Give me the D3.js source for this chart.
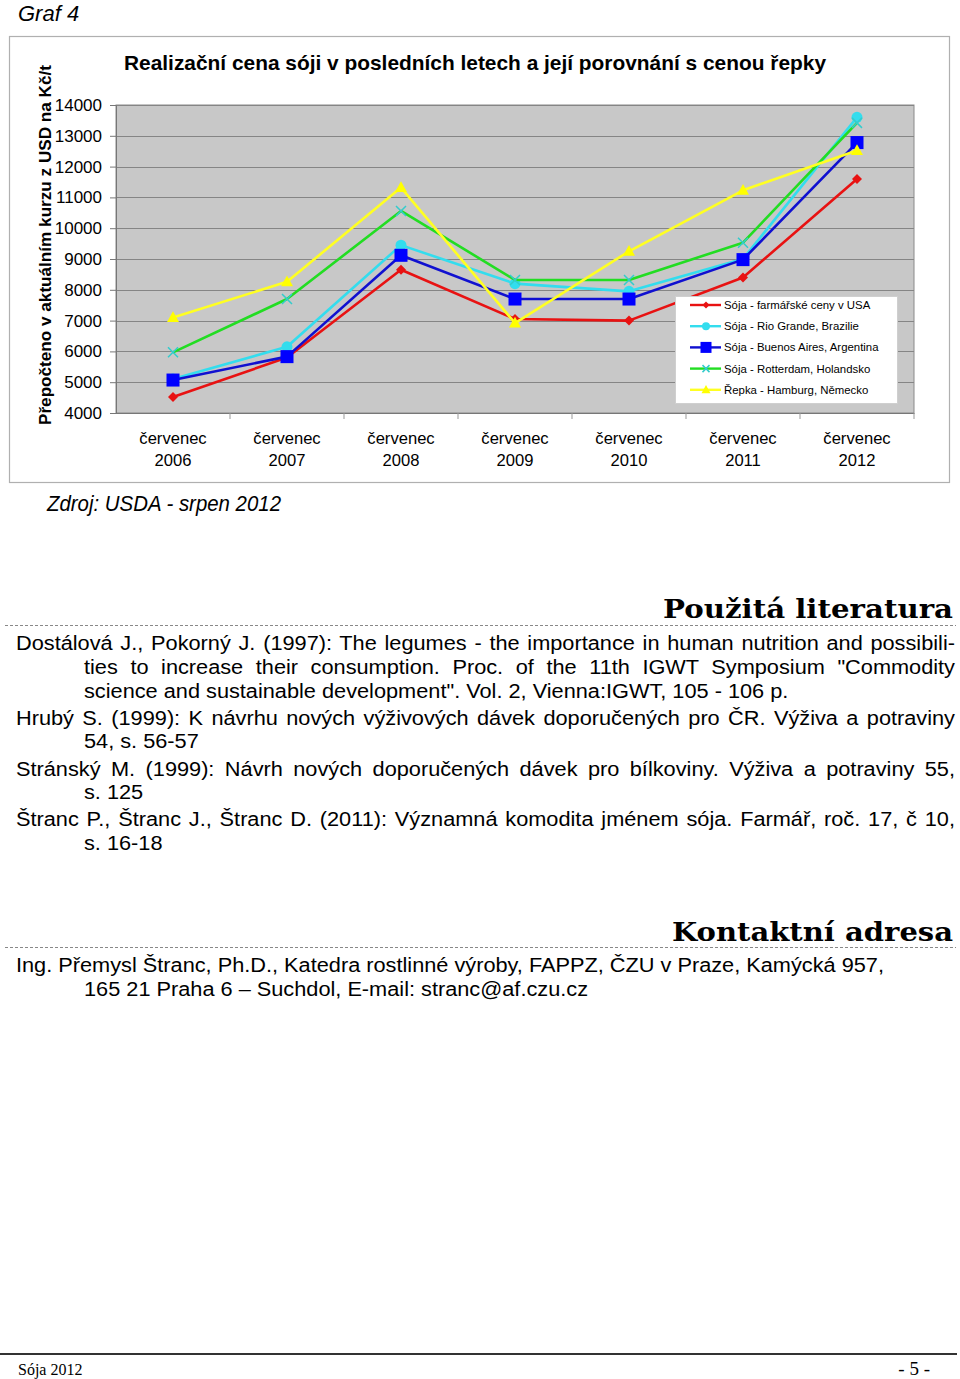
<!DOCTYPE html>
<html><head><meta charset="utf-8">
<script src="https://cdn.jsdelivr.net/npm/d3@7/dist/d3.min.js"></script>
<style>
html,body{margin:0;padding:0;background:#fff;}
svg{display:block;}
</style></head>
<body>
<svg id="page" width="960" height="1379"></svg>
<script>
// ---- data ----
const categories = ["2006","2007","2008","2009","2010","2011","2012"];
const monthLabel = "červenec";
const yTicks = [4000,5000,6000,7000,8000,9000,10000,11000,12000,13000,14000];
const seriesNames = [
  "Sója - farmářské ceny v USA",
  "Sója - Rio Grande, Brazilie",
  "Sója - Buenos Aires, Argentina",
  "Sója - Rotterdam, Holandsko",
  "Řepka - Hamburg, Německo"
];
const farmUSA    = [4520, 5800, 8650, 7050, 7000, 8400, 11600];
const rioGrande  = [5100, 6150, 9450, 8200, 7950, 9000, 13600];
const buenosAires= [5070, 5830, 9120, 7700, 7700, 8980, 12780];
const rotterdam  = [5970, 7700, 10560, 8320, 8320, 9530, 13420];
const hamburg    = [7100, 8260, 11320, 6920, 9250, 11230, 12520];

const refLines = [
  ["Dostálová J., Pokorný J. (1997): The legumes - the importance in human nutrition and possibili-", 0, true],
  ["ties to increase their consumption. Proc. of the 11th IGWT Symposium \"Commodity", 1, true],
  ["science and sustainable development\". Vol. 2, Vienna:IGWT, 105 - 106 p.", 1, false],
  ["Hrubý S. (1999): K návrhu nových výživových dávek doporučených pro ČR. Výživa a potraviny", 0, true],
  ["54, s. 56-57", 1, false],
  ["Stránský M. (1999): Návrh nových doporučených dávek pro bílkoviny. Výživa a potraviny 55,", 0, true],
  ["s. 125", 1, false],
  ["Štranc P., Štranc J., Štranc D. (2011): Významná komodita jménem sója. Farmář, roč. 17, č 10,", 0, true],
  ["s. 16-18", 1, false]
];
const contactLines = [
  ["Ing. Přemysl Štranc, Ph.D., Katedra rostlinné výroby, FAPPZ, ČZU v Praze, Kamýcká 957,", 0, false],
  ["165 21 Praha 6 – Suchdol, E-mail: stranc@af.czu.cz", 1, false]
];

// ---- drawing ----
const svg = d3.select("#page");
const SANS = "'Liberation Sans', Arial, sans-serif";

svg.append("text").attr("x",18).attr("y",21).attr("font-family",SANS)
  .attr("font-style","italic").attr("font-size",22).text("Graf 4");

// chart frame
svg.append("rect").attr("x",9.5).attr("y",36.5).attr("width",940).attr("height",446)
  .attr("fill","#fff").attr("stroke","#b0b0b0").attr("stroke-width",1.2);

svg.append("text").attr("x",124).attr("y",70).attr("font-family",SANS)
  .attr("font-weight","bold").attr("font-size",20.5)
  .attr("textLength",702).attr("lengthAdjust","spacingAndGlyphs")
  .text("Realizační cena sóji v posledních letech a její porovnání s cenou řepky");

svg.append("text").attr("transform","translate(51,245) rotate(-90)")
  .attr("text-anchor","middle").attr("font-family",SANS).attr("font-weight","bold")
  .attr("font-size",17).attr("textLength",360).attr("lengthAdjust","spacingAndGlyphs")
  .text("Přepočteno v aktuálním kurzu z USD na Kč/t");

const L=116, R=914, T=105, B=413;
const x = d3.scaleBand().domain(categories).range([L,R]);
const y = d3.scaleLinear().domain([4000,14000]).range([B,T]);

svg.append("rect").attr("x",L).attr("y",T).attr("width",R-L).attr("height",B-T)
  .attr("fill","#c8c8c8").attr("stroke","#8a8a8a").attr("stroke-width",1);

svg.append("g").selectAll("line").data(yTicks).join("line")
  .attr("x1",L).attr("x2",R).attr("y1",d=>Math.round(y(d))+0.5).attr("y2",d=>Math.round(y(d))+0.5)
  .attr("stroke","#858585").attr("stroke-width",1);

// y axis
const yAxis = svg.append("g").attr("transform",`translate(${L},0)`)
  .call(d3.axisLeft(y).tickValues(yTicks).tickSize(6).tickPadding(8).tickFormat(d3.format("d")));
yAxis.select(".domain").attr("stroke","#777");
yAxis.selectAll(".tick line").attr("stroke","#777");
yAxis.selectAll("text").attr("font-family",SANS).attr("font-size",17).attr("fill","#000");

// x axis
const xAxis = svg.append("g").attr("transform",`translate(0,${B})`)
  .call(d3.axisBottom(x).tickSize(0).tickFormat(""));
xAxis.select(".domain").attr("stroke","#777");
svg.append("g").selectAll("line").data(categories).join("line")
  .attr("x1",(d,i)=>L+(i+1)*x.step()).attr("x2",(d,i)=>L+(i+1)*x.step())
  .attr("y1",B).attr("y2",B+6).attr("stroke","#999");
const xl = svg.append("g").selectAll("g").data(categories).join("g")
  .attr("transform",d=>`translate(${x(d)+x.bandwidth()/2},0)`);
xl.append("text").attr("y",444).attr("text-anchor","middle").attr("font-family",SANS)
  .attr("font-size",16.6).text(monthLabel);
xl.append("text").attr("y",466).attr("text-anchor","middle").attr("font-family",SANS)
  .attr("font-size",16.6).text(d=>d);

// series
const series = [
  {name:seriesNames[0], values:farmUSA, line:"#e81212", fill:"#e81212", marker:"diamond", size:10, lsize:7},
  {name:seriesNames[1], values:rioGrande, line:"#33ddee", fill:"#33ddee", marker:"circle", size:11, lsize:8},
  {name:seriesNames[2], values:buenosAires, line:"#1010d0", fill:"#0000ff", marker:"square", size:13, lsize:11},
  {name:seriesNames[3], values:rotterdam, line:"#22dd22", fill:"#33cccc", marker:"cross", size:10, lsize:7},
  {name:seriesNames[4], values:hamburg, line:"#ffff22", fill:"#ffff00", marker:"triangle", size:12, lsize:9}
];

function drawMarker(g, type, s, fill){
  const h=s/2;
  if(type==="diamond") g.append("path").attr("d",`M0,${-h}L${h},0L0,${h}L${-h},0Z`).attr("fill",fill);
  else if(type==="circle") g.append("circle").attr("r",h).attr("fill",fill);
  else if(type==="square") g.append("rect").attr("x",-h).attr("y",-h).attr("width",s).attr("height",s).attr("fill",fill);
  else if(type==="triangle") g.append("path").attr("d",`M0,${-h*1.05}L${h},${h*0.75}L${-h},${h*0.75}Z`).attr("fill",fill);
  else if(type==="cross") g.append("path").attr("d",`M${-h},${-h}L${h},${h}M${-h},${h}L${h},${-h}`)
    .attr("stroke",fill).attr("stroke-width",1.5).attr("fill","none");
}

const line = d3.line().x((d,i)=>x(categories[i])+x.bandwidth()/2).y(d=>y(d));
series.forEach(s=>{
  svg.append("path").datum(s.values).attr("d",line).attr("fill","none")
    .attr("stroke",s.line).attr("stroke-width",2.6).attr("stroke-linejoin","round");
  s.values.forEach((v,i)=>{
    const g = svg.append("g").attr("transform",`translate(${x(categories[i])+x.bandwidth()/2},${y(v)})`);
    drawMarker(g, s.marker, s.size, s.fill);
  });
});

// legend
const lg = svg.append("g").attr("transform","translate(675,296)");
lg.append("rect").attr("x",0.5).attr("y",0.5).attr("width",222).attr("height",107)
  .attr("fill","#fff").attr("stroke","#cfcfcf");
series.forEach((s,i)=>{
  const yy = 9 + i*21.2;
  lg.append("line").attr("x1",15).attr("x2",46).attr("y1",yy).attr("y2",yy)
    .attr("stroke",s.line).attr("stroke-width",2.4);
  const g = lg.append("g").attr("transform",`translate(31,${yy})`);
  drawMarker(g, s.marker, s.lsize, s.fill);
  lg.append("text").attr("x",49).attr("y",yy+4).attr("font-family",SANS).attr("font-size",11.4)
    .text(s.name);
});

// source
svg.append("text").attr("x",47).attr("y",511).attr("font-family","'Liberation Sans Narrow', "+SANS)
  .attr("font-style","italic").attr("font-size",22).attr("textLength",234).attr("lengthAdjust","spacingAndGlyphs")
  .text("Zdroj: USDA - srpen 2012");

// headings
function heading(txt, yb, ydash, width){
  svg.append("text").attr("x",953).attr("y",yb).attr("text-anchor","end")
    .attr("font-family","'DejaVu Serif', serif").attr("font-weight","bold").attr("font-size",26)
    .attr("textLength",width).attr("lengthAdjust","spacingAndGlyphs").text(txt);
  svg.append("line").attr("x1",5).attr("x2",956).attr("y1",ydash).attr("y2",ydash)
    .attr("stroke","#888").attr("stroke-width",1).attr("stroke-dasharray","3,2");
}
heading("Použitá literatura", 618, 625.5, 290);
heading("Kontaktní adresa", 941, 947.5, 281);

const SX = 1.115; // horizontal stretch of the body text
function para(lines, startY, steps){
  let yy = startY;
  lines.forEach((ln,i)=>{
    const [txt, indent, just] = ln;
    const x0 = indent ? 84 : 16;
    const g = svg.append("g").attr("transform",`translate(${x0},${yy}) scale(${SX},1)`);
    const t = g.append("text").attr("x",0).attr("y",0).attr("font-family",SANS)
      .attr("font-size",19.5).text(txt);
    if(just){
      const w = t.node().getComputedTextLength();
      const spaces = (txt.match(/ /g)||[]).length;
      const target = (955 - x0)/SX;
      if(spaces>0) t.attr("word-spacing",(target-w)/spaces);
    }
    yy += steps[i] || 0;
  });
}
para(refLines, 650, [23.5,24,27,23.5,27.5,23.5,27,23.5]);
para(contactLines, 972, [24]);

// footer
svg.append("line").attr("x1",0).attr("x2",957).attr("y1",1354).attr("y2",1354)
  .attr("stroke","#333").attr("stroke-width",2);
svg.append("text").attr("x",18).attr("y",1375).attr("font-family","'Liberation Serif', serif")
  .attr("font-size",16).text("Sója 2012");
svg.append("text").attr("x",930).attr("y",1375).attr("text-anchor","end").attr("font-family","'Liberation Serif', serif")
  .attr("font-size",19).text("- 5 -");
</script>
</body></html>
